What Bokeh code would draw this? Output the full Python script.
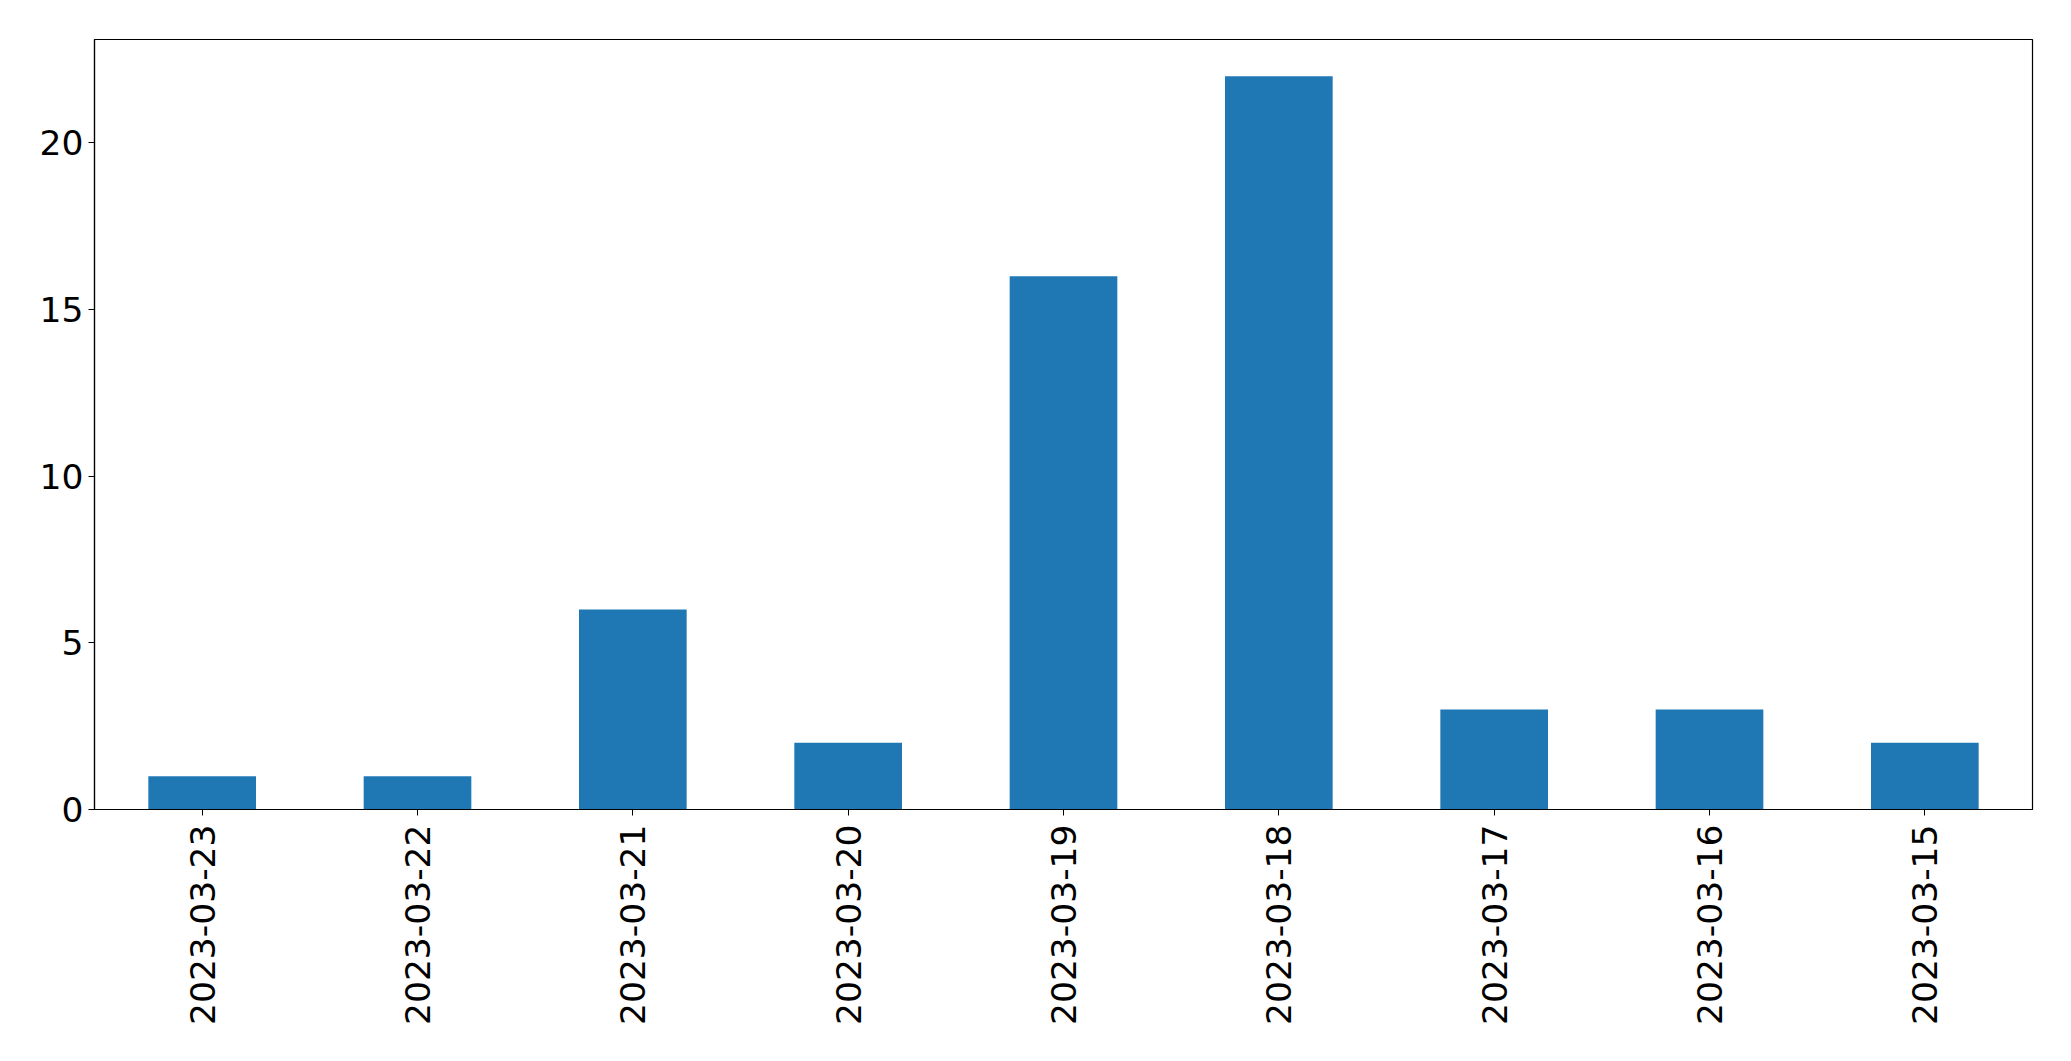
import math
from bokeh.plotting import figure
from bokeh.models import FactorRange, Range1d, FixedTicker, ColumnDataSource
from bokeh.embed import file_html
from bokeh.resources import INLINE

dates = ["2023-03-23", "2023-03-22", "2023-03-21", "2023-03-20", "2023-03-19",
         "2023-03-18", "2023-03-17", "2023-03-16", "2023-03-15"]
counts = [1, 1, 6, 2, 16, 22, 3, 3, 2]
y_ticks = [0, 5, 10, 15, 20]

src = ColumnDataSource(dict(x=dates, top=counts))

p = figure(width=2071, height=1061, output_backend="svg", toolbar_location=None,
           x_range=FactorRange(factors=dates, range_padding=0),
           y_range=Range1d(0, max(counts) * 1.05),
           min_border_left=94, min_border_right=39, min_border_top=39,
           min_border_bottom=252)

p.vbar(x="x", top="top", width=0.5, source=src, color="#1f77b4", line_color=None)

p.xgrid.visible = False
p.ygrid.visible = False
p.outline_line_color = "black"
p.outline_line_width = 1.2
p.background_fill_color = "white"
p.border_fill_color = "white"

p.yaxis.ticker = FixedTicker(ticks=y_ticks)
for ax in (p.xaxis[0], p.yaxis[0]):
    ax.major_label_text_font = "DejaVu Sans"
    ax.major_label_text_font_size = "34.5px"
    ax.major_label_text_color = "black"
    ax.major_tick_in = 0
    ax.major_tick_out = 6
    ax.major_tick_line_color = "black"
    ax.minor_tick_line_color = None
    ax.axis_line_color = "black"
    ax.axis_line_width = 1.2
p.xaxis.major_label_orientation = math.pi / 2
p.xaxis.major_label_standoff = 9
p.yaxis.major_label_standoff = 5

open("out.html", "w").write(file_html(p, INLINE))
